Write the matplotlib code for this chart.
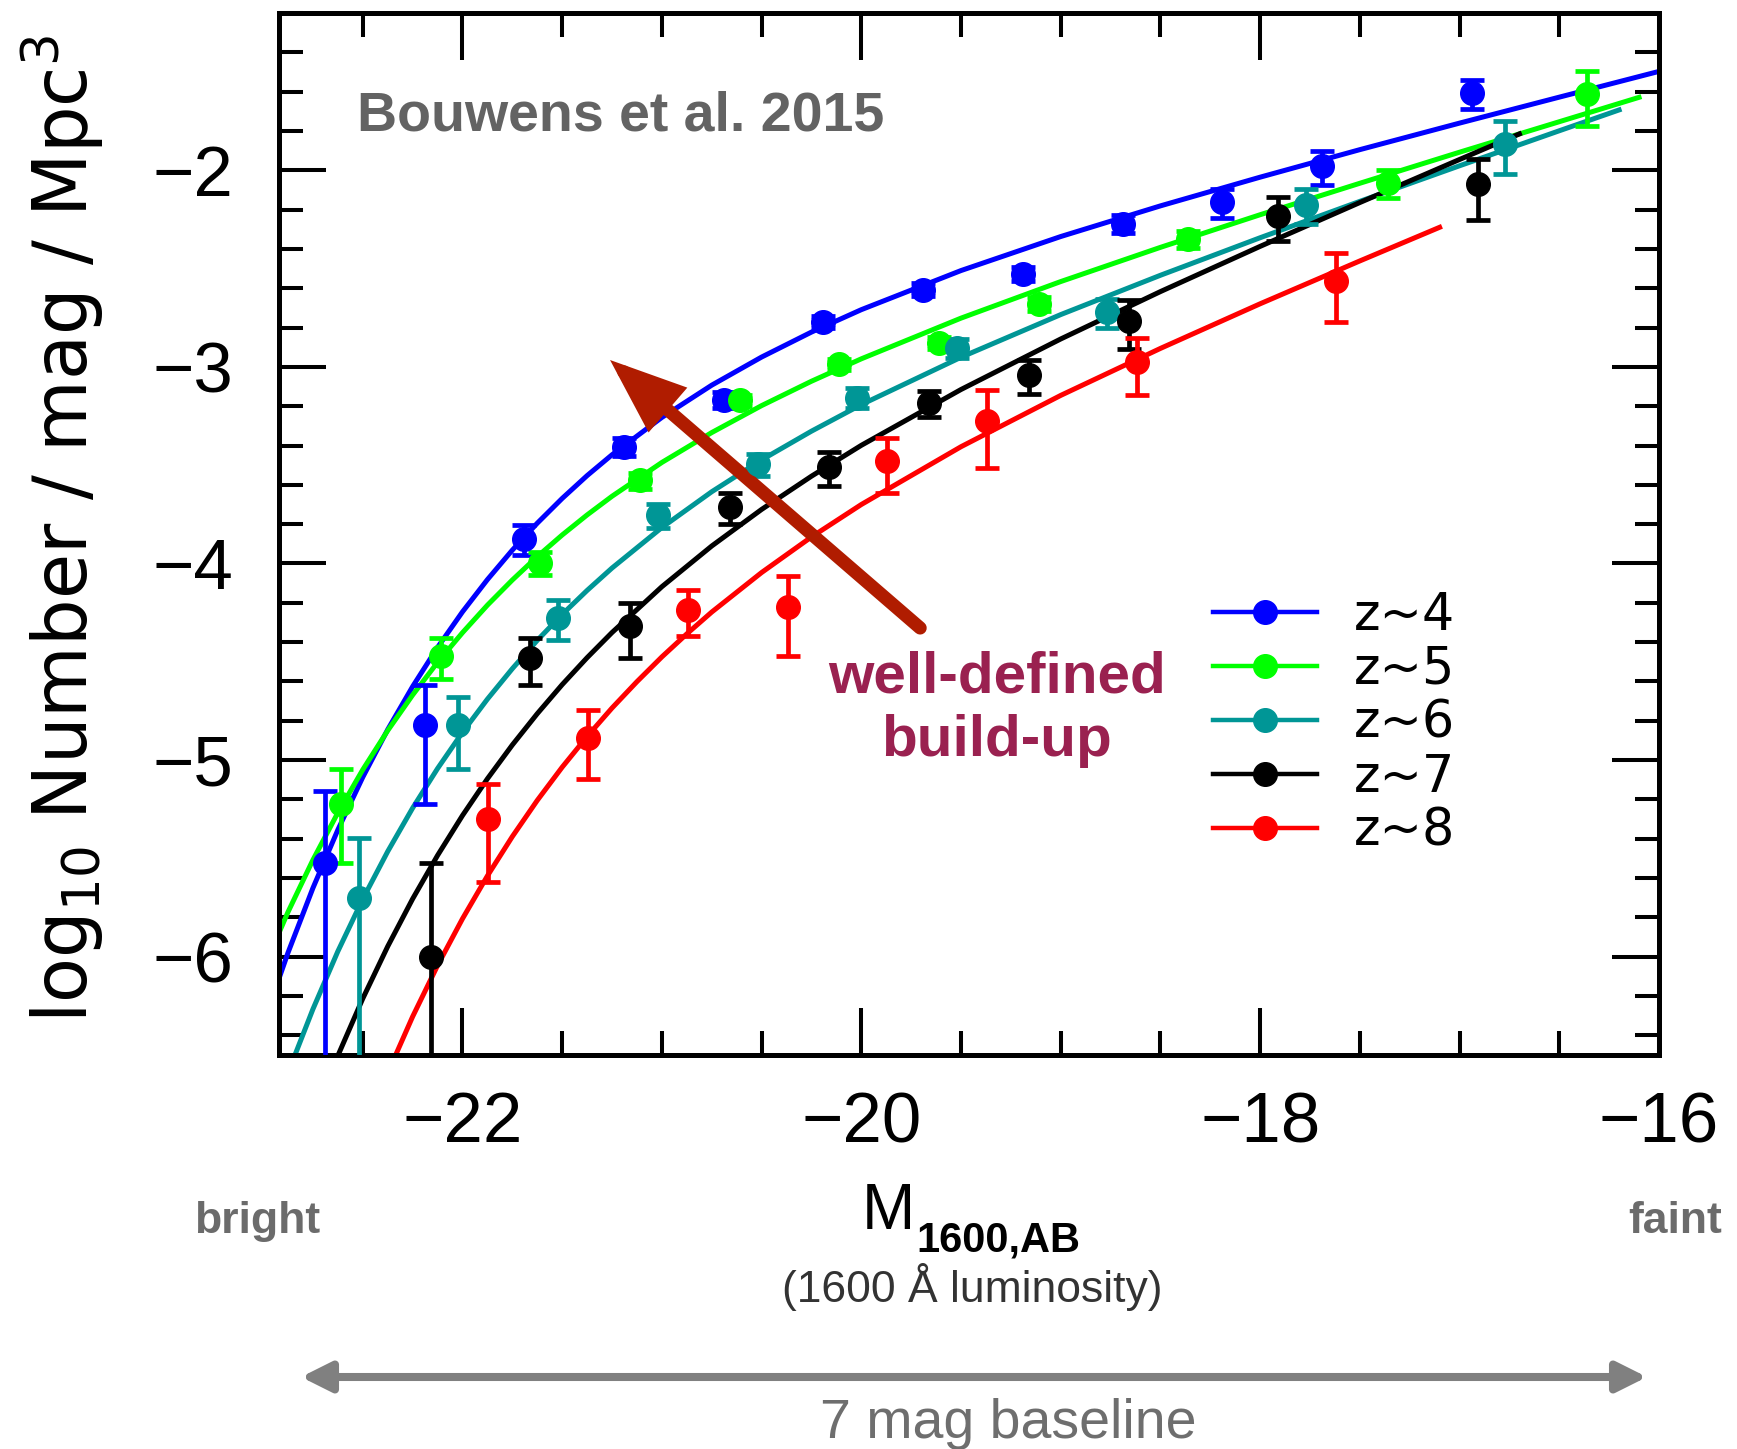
import numpy as np
import matplotlib
matplotlib.use('Agg')
import matplotlib.pyplot as plt
from matplotlib.lines import Line2D
from matplotlib.ticker import MultipleLocator

plt.rcParams['font.family'] = ['Liberation Sans', 'DejaVu Sans']

#######################################################################
# data (Bouwens et al. 2015 stepwise UV LF)
# phi, err in Mpc^-3 mag^-1
#######################################################################

M_z4 = [-22.69, -22.19, -21.69, -21.19, -20.69, -20.19, -19.69, -19.19, -18.69, -18.19, -17.69, -16.94]
phi_z4 = [0.000003, 0.000015, 0.000134, 0.000393, 0.000678, 0.001696, 0.002475, 0.002984, 0.005352, 0.006865, 0.010473, 0.024580]
err_z4 = [0.000004, 0.000009, 0.000023, 0.000040, 0.000063, 0.000113, 0.000185, 0.000244, 0.000574, 0.001142, 0.002067, 0.004112]

M_z5 = [-22.61, -22.11, -21.61, -21.11, -20.61, -20.11, -19.61, -19.11, -18.36, -17.36, -16.36]
phi_z5 = [0.000006, 0.000034, 0.000101, 0.000265, 0.000676, 0.001029, 0.001329, 0.002085, 0.004460, 0.008600, 0.024400]
err_z5 = [0.000003, 0.000008, 0.000014, 0.000025, 0.000046, 0.000067, 0.000094, 0.000171, 0.000437, 0.001400, 0.007600]

M_z6 = [-22.52, -22.02, -21.52, -21.02, -20.52, -20.02, -19.52, -18.77, -17.77, -16.77]
phi_z6 = [0.000002, 0.000015, 0.000053, 0.000176, 0.000320, 0.000698, 0.001246, 0.001900, 0.006680, 0.013640]
err_z6 = [0.000002, 0.000006, 0.000012, 0.000025, 0.000041, 0.000083, 0.000137, 0.000320, 0.001380, 0.004100]

M_z7 = [-22.16, -21.66, -21.16, -20.66, -20.16, -19.66, -19.16, -18.66, -17.91, -16.91]
phi_z7 = [0.000001, 0.000033, 0.000048, 0.000193, 0.000309, 0.000654, 0.000907, 0.001717, 0.005840, 0.008500]
err_z7 = [0.000002, 0.000009, 0.000015, 0.000034, 0.000061, 0.000100, 0.000177, 0.000478, 0.001460, 0.002940]

M_z8 = [-21.87, -21.37, -20.87, -20.37, -19.87, -19.37, -18.62, -17.62]
phi_z8 = [0.000005, 0.000013, 0.000058, 0.000060, 0.000331, 0.000533, 0.001060, 0.002740]
err_z8 = [0.0000026, 0.000005, 0.000015, 0.000026, 0.000104, 0.000226, 0.000340, 0.001040]

# fitted curves (log10 phi)
fitM_z4 = [-23.0, -22.875, -22.75, -22.625, -22.5, -22.375, -22.25, -22.125, -22.0, -21.875, -21.75, -21.625, -21.5, -21.375,
           -21.25, -21.0, -20.75, -20.5, -20.25, -20.0, -19.5, -19.0, -18.5, -18.0, -17.5, -17.0, -16.5, -16.0]
fit_z4 = [-6.344, -5.980, -5.651, -5.355, -5.087, -4.845, -4.626, -4.427, -4.246, -4.082, -3.932, -3.795, -3.669, -3.553,
          -3.447, -3.257, -3.093, -2.950, -2.823, -2.709, -2.510, -2.337, -2.181, -2.035, -1.895, -1.760, -1.628, -1.497]

fitM_z5 = [-23.0, -22.875, -22.75, -22.625, -22.5, -22.375, -22.25, -22.125, -22.0, -21.875, -21.75, -21.625, -21.5, -21.375,
           -21.25, -21.0, -20.75, -20.5, -20.25, -20.0, -19.5, -19.0, -18.5, -18.0, -17.5, -17.0, -16.5, -16.1]
fit_z5 = [-6.066, -5.773, -5.508, -5.268, -5.049, -4.850, -4.669, -4.503, -4.352, -4.212, -4.084, -3.965, -3.855, -3.753,
          -3.658, -3.486, -3.334, -3.197, -3.073, -2.959, -2.752, -2.566, -2.392, -2.226, -2.066, -1.908, -1.753, -1.629]

fitM_z6 = [-23.0, -22.875, -22.75, -22.625, -22.5, -22.375, -22.25, -22.125, -22.0, -21.875, -21.75, -21.625, -21.5, -21.375,
           -21.25, -21.0, -20.75, -20.5, -20.25, -20.0, -19.5, -19.0, -18.5, -18.0, -17.5, -17.0, -16.5, -16.2]
fit_z6 = [-6.950, -6.591, -6.267, -5.973, -5.707, -5.465, -5.244, -5.043, -4.859, -4.690, -4.535, -4.391, -4.259, -4.137,
          -4.023, -3.817, -3.635, -3.473, -3.327, -3.192, -2.951, -2.734, -2.534, -2.343, -2.158, -1.977, -1.799, -1.693]

fitM_z7 = [-23.0, -22.875, -22.75, -22.625, -22.5, -22.375, -22.25, -22.125, -22.0, -21.875, -21.75, -21.625, -21.5, -21.375,
           -21.25, -21.0, -20.75, -20.5, -20.25, -20.0, -19.5, -19.0, -18.5, -18.0, -17.5, -17.0, -16.7]
fit_z7 = [-7.565, -7.176, -6.824, -6.504, -6.213, -5.948, -5.706, -5.485, -5.282, -5.095, -4.923, -4.764, -4.616, -4.479,
          -4.351, -4.118, -3.911, -3.725, -3.556, -3.399, -3.115, -2.858, -2.617, -2.387, -2.164, -1.945, -1.815]

fitM_z8 = [-22.5, -22.375, -22.25, -22.125, -22.0, -21.875, -21.75, -21.625, -21.5, -21.375, -21.25, -21.125,
           -21.0, -20.875, -20.75, -20.5, -20.25, -20.0, -19.5, -19.0, -18.5, -18.0, -17.5, -17.1]
fit_z8 = [-6.908, -6.592, -6.305, -6.045, -5.807, -5.589, -5.389, -5.205, -5.036, -4.880, -4.735, -4.601,
          -4.475, -4.358, -4.247, -4.046, -3.865, -3.700, -3.406, -3.145, -2.906, -2.679, -2.461, -2.290]

labels = ['z~4', 'z~5', 'z~6', 'z~7', 'z~8']
colors = ['#0000ff', '#00ff00', '#009696', '#000000', '#ff0000']

points = [(M_z4, phi_z4, err_z4), (M_z5, phi_z5, err_z5), (M_z6, phi_z6, err_z6),
          (M_z7, phi_z7, err_z7), (M_z8, phi_z8, err_z8)]
fits = [(fitM_z4, fit_z4), (fitM_z5, fit_z5), (fitM_z6, fit_z6),
        (fitM_z7, fit_z7), (fitM_z8, fit_z8)]

W, H = 1737, 1449
fig = plt.figure(figsize=(W / 100, H / 100), dpi=100)
ax = fig.add_axes([279 / W, 1 - 1055 / H, 1380 / W, 1042 / H])

for (M, phi, err), (fM, fL), c in zip(points, fits, colors):
    phi = np.array(phi)
    err = np.array(err)
    logphi = np.log10(phi)
    lo = logphi - np.log10(np.clip(phi - err, 1e-12, None))
    hi = np.log10(phi + err) - logphi
    ax.plot(fM, fL, color=c, lw=3.6, zorder=2)
    ax.errorbar(M, logphi, yerr=[lo, hi], fmt='o', ms=17, color=c, mec=c,
                elinewidth=3.4, capsize=8.5, capthick=3.4, zorder=3)

ax.set_xlim(-22.92, -16)
ax.set_ylim(-6.5, -1.2)
ax.xaxis.set_major_locator(MultipleLocator(2))
ax.xaxis.set_minor_locator(MultipleLocator(0.5))
ax.yaxis.set_major_locator(MultipleLocator(1))
ax.yaxis.set_minor_locator(MultipleLocator(0.2))
ax.tick_params(which='both', direction='in', top=True, right=True, width=2.9, colors='black')
ax.tick_params(which='major', length=34, labelsize=51)
ax.tick_params(which='minor', length=17)
ax.tick_params(axis='x', which='major', pad=26)
ax.tick_params(axis='y', which='major', pad=33)
for sp in ax.spines.values():
    sp.set_linewidth(3.6)

# legend
handles = [Line2D([], [], color=c, lw=3.2, marker='o', ms=17) for c in colors]
leg = ax.legend(handles, labels, loc='center left', bbox_to_anchor=(0.677, 0.318),
                frameon=False, prop={'family': 'DejaVu Sans', 'size': 36.5},
                handlelength=2.05, handletextpad=0.73, labelspacing=0.08,
                borderpad=0, borderaxespad=0, numpoints=1)

# annotations
ax.text(-22.53, -1.80, 'Bouwens et al. 2015', fontsize=40, fontweight='bold',
        color='#636363', ha='left', va='baseline')
ax.text(-19.32, -4.654, 'well-defined', fontsize=42, fontweight='bold',
        color='#9a2150', ha='center', va='baseline')
ax.text(-19.32, -4.977, 'build-up', fontsize=42, fontweight='bold',
        color='#9a2150', ha='center', va='baseline')
ax.annotate('', xy=(-21.26, -2.965), xytext=(-19.705, -4.328),
            arrowprops=dict(arrowstyle='-|>,head_length=0.62,head_width=0.24',
                            mutation_scale=60, lw=9.5, color='#b01c00',
                            shrinkA=0, shrinkB=0, joinstyle='miter'))

def fx(px):
    return px / W

def fy(py):
    return 1 - py / H

fig.text(fx(62), fy(529), r'log$_{10}$ Number / mag / Mpc$^3$', rotation=90,
         ha='center', va='center', fontsize=53, family='DejaVu Sans')

fig.text(fx(862), fy(1229), 'M', fontsize=46, ha='left', va='baseline')
fig.text(fx(916), fy(1252), '1600,AB', fontsize=30, fontweight='bold', ha='left', va='baseline')
fig.text(fx(972), fy(1302), '(1600 Å luminosity)', fontsize=32, color='#333333',
         ha='center', va='baseline')
fig.text(fx(257), fy(1233), 'bright', fontsize=32, fontweight='bold', color='#6b6b6b',
         ha='center', va='baseline')
fig.text(fx(1675), fy(1233), 'faint', fontsize=32, fontweight='bold', color='#6b6b6b',
         ha='center', va='baseline')

ax.annotate('', xy=(1647, H - 1377), xycoords='figure pixels',
            xytext=(301, H - 1377), textcoords='figure pixels',
            arrowprops=dict(arrowstyle='<|-|>,head_length=0.9,head_width=0.45',
                            mutation_scale=20, lw=5.8, color='#808080',
                            shrinkA=0, shrinkB=0),
            annotation_clip=False)
fig.text(fx(1008), fy(1438), '7 mag baseline', fontsize=40, color='#6e6e6e',
         ha='center', va='baseline')

fig.savefig('out.png', dpi=100)
